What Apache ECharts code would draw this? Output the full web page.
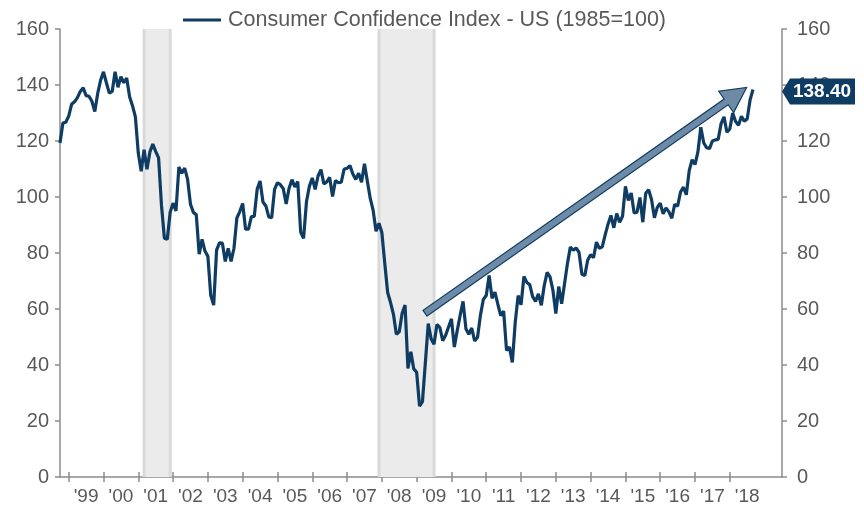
<!DOCTYPE html>
<html>
<head>
<meta charset="utf-8">
<title>Consumer Confidence Index - US</title>
<script src="https://cdn.jsdelivr.net/npm/echarts@6/dist/echarts.min.js"></script>
<style>
  html, body { margin: 0; padding: 0; background: #fff; }
  #main { width: 864px; height: 508px; }
</style>
</head>
<body>
<div id="main"></div>
<script>
// x = months since Jan 1999; first reading is Oct 1998
var firstMonth = -3;
var cci = [
  119.3, 126.4, 126.7,                                                            // 1998 Oct-Dec
  128.9, 133.1, 134.0, 135.5, 137.7, 139.0, 136.2, 136.0, 134.2, 130.5, 137.0, 141.7, // 1999
  144.7, 140.8, 137.1, 137.7, 144.7, 139.2, 143.0, 140.8, 142.5, 135.8, 132.6, 128.6, // 2000
  115.7, 109.2, 116.9, 109.9, 116.1, 118.9, 116.3, 114.0, 97.0, 85.3, 84.9, 94.6,     // 2001
  97.8, 95.0, 110.7, 108.5, 110.3, 106.3, 97.4, 94.5, 93.7, 79.6, 84.9, 80.7,         // 2002
  78.8, 64.8, 61.4, 81.0, 83.6, 83.5, 77.0, 81.7, 77.0, 81.7, 92.5, 94.8,             // 2003
  97.7, 88.5, 88.5, 93.0, 93.1, 102.8, 105.7, 98.2, 96.8, 92.9, 92.6, 102.7,          // 2004
  105.1, 104.4, 103.0, 97.5, 103.1, 106.2, 103.6, 105.5, 87.5, 85.2, 98.3, 103.8,     // 2005
  106.8, 102.7, 107.5, 109.8, 104.7, 105.4, 107.0, 100.2, 105.9, 105.1, 105.3, 110.0, // 2006
  110.2, 111.2, 108.2, 106.3, 108.5, 105.3, 111.9, 105.6, 99.5, 95.2, 87.8, 90.6,     // 2007
  87.3, 76.4, 65.9, 62.3, 58.1, 51.0, 51.9, 58.5, 61.4, 38.8, 44.7, 38.6,             // 2008
  37.4, 25.3, 26.9, 40.8, 54.8, 49.3, 47.4, 54.5, 53.4, 48.7, 50.6, 53.6,             // 2009
  56.5, 46.4, 52.3, 57.7, 62.7, 52.9, 51.0, 53.2, 48.6, 49.9, 57.8, 63.4,             // 2010
  64.8, 72.0, 63.8, 66.0, 61.7, 57.6, 59.2, 45.2, 46.4, 40.9, 55.2, 64.8,             // 2011
  61.5, 71.6, 69.5, 68.7, 64.4, 62.7, 65.4, 61.3, 68.4, 73.1, 71.5, 66.7,             // 2012
  58.4, 68.0, 61.9, 69.0, 76.2, 82.1, 81.0, 81.8, 80.2, 72.4, 72.0, 77.5,             // 2013
  79.4, 78.3, 83.9, 81.7, 82.2, 86.4, 90.3, 93.4, 89.0, 94.1, 91.0, 93.1,             // 2014
  103.8, 98.8, 101.4, 94.3, 94.6, 99.8, 91.0, 101.3, 102.6, 99.1, 92.6, 96.3,         // 2015
  97.8, 94.0, 96.1, 94.7, 92.4, 97.4, 96.7, 101.8, 103.5, 100.8, 109.4, 113.3,        // 2016
  111.6, 116.1, 124.9, 119.4, 117.6, 117.3, 120.0, 120.4, 120.6, 126.2, 128.6, 123.1, // 2017
  124.3, 130.0, 127.0, 125.6, 128.8, 127.1, 127.9, 134.7, 138.4                       // 2018 Jan-Sep
];
var lastValue = 138.40;

// shaded recessions (month ranges)
var recessions = [[26, 35], [107, 126]];

// trend arrow, tail -> tip, in data units
var arrowTail = [122.9, 58.5];
var arrowTip = [233.8, 139.1];

var yearTicks = [0, 12, 24, 36, 48, 60, 72, 84, 96, 108, 120, 132, 144, 156, 168, 180, 192, 204, 216, 228];
var yearLabelPos = [6, 18, 30, 42, 54, 66, 78, 90, 102, 114, 126, 138, 150, 162, 174, 186, 198, 210, 222, 234];
var yearLabels = ["'99", "'00", "'01", "'02", "'03", "'04", "'05", "'06", "'07", "'08",
                  "'09", "'10", "'11", "'12", "'13", "'14", "'15", "'16", "'17", "'18"];

var xMin = -3, xMax = 246;
var yMin = 0, yMax = 160;
var navy = '#0f3c62';
var axisGray = '#8c8c8c';
var labelGray = '#595959';
var font = 'Liberation Sans, Arial, sans-serif';

var lineData = cci.map(function (v, i) { return [firstMonth + i, v]; });

var chart = echarts.init(document.getElementById('main'));

var yAxisBase = {
    type: 'value',
    min: yMin,
    max: yMax,
    interval: 20,
    splitLine: { show: false },
    axisLine: { show: true, onZero: false, lineStyle: { color: axisGray, width: 1.5 } },
    axisTick: { show: true, length: 5, lineStyle: { color: axisGray, width: 1.5 } },
    axisLabel: { color: labelGray, fontSize: 20, fontFamily: font }
};

var option = {
    animation: false,
    backgroundColor: '#fff',
    grid: { left: 60, right: 82, top: 29, bottom: 31 },
    legend: {
        data: ['Consumer Confidence Index - US (1985=100)'],
        top: 3,
        left: 178,
        icon: 'rect',
        itemWidth: 38,
        itemHeight: 3,
        textStyle: { fontSize: 21.5, color: labelGray, fontFamily: font, lineHeight: 24, padding: [0, 0, 0, 2] }
    },
    xAxis: [{
        type: 'value',
        min: xMin,
        max: xMax,
        position: 'bottom',
        splitLine: { show: false },
        axisLine: { show: true, onZero: false, lineStyle: { color: axisGray, width: 1.5 } },
        axisTick: { show: true, length: 5, customValues: yearTicks, lineStyle: { color: axisGray, width: 1.5 } },
        axisLabel: {
            customValues: yearLabelPos,
            color: labelGray,
            fontSize: 19,
            fontFamily: font,
            margin: 10,
            formatter: function (v) { return yearLabels[Math.round((v - 6) / 12)]; }
        }
    }, {
        type: 'value',
        min: xMin,
        max: xMax,
        position: 'bottom',
        splitLine: { show: false },
        axisLine: { show: false, onZero: false },
        axisTick: { show: true, inside: true, length: 5, customValues: yearTicks, lineStyle: { color: axisGray, width: 1.5 } },
        axisLabel: { show: false }
    }],
    yAxis: [
        echarts.util.merge({ position: 'left', axisLabel: { margin: 11 } }, yAxisBase, false),
        echarts.util.merge({ position: 'right', axisLabel: { margin: 15 } }, yAxisBase, false)
    ],
    series: [{
        // recession bands: light fill with darker side edges
        type: 'custom',
        silent: true,
        z: 1,
        data: recessions,
        encode: { x: [0, 1] },
        renderItem: function (params, api) {
            var a = api.coord([api.value(0), yMax]);
            var b = api.coord([api.value(1), yMin]);
            return {
                type: 'group',
                children: [{
                    type: 'rect',
                    shape: { x: a[0], y: a[1], width: b[0] - a[0], height: b[1] - a[1] },
                    style: { fill: '#ebebeb' }
                }, {
                    type: 'line',
                    shape: { x1: a[0], y1: a[1], x2: a[0], y2: b[1] },
                    style: { stroke: '#d9d9d9', lineWidth: 3 }
                }, {
                    type: 'line',
                    shape: { x1: b[0], y1: a[1], x2: b[0], y2: b[1] },
                    style: { stroke: '#d9d9d9', lineWidth: 3 }
                }]
            };
        }
    }, {
        name: 'Consumer Confidence Index - US (1985=100)',
        type: 'line',
        data: lineData,
        symbol: 'none',
        lineStyle: { color: navy, width: 3.2 },
        itemStyle: { color: navy },
        z: 3
    }, {
        type: 'custom',
        silent: true,
        z: 4,
        data: [[arrowTail[0], arrowTail[1], arrowTip[0], arrowTip[1]]],
        encode: { x: [0, 2], y: [1, 3] },
        renderItem: function (params, api) {
            var a = api.coord([api.value(0), api.value(1)]);
            var b = api.coord([api.value(2), api.value(3)]);
            var dx = b[0] - a[0], dy = b[1] - a[1];
            var len = Math.sqrt(dx * dx + dy * dy);
            var ux = dx / len, uy = dy / len;
            var nx = -uy, ny = ux;
            var w = 3.5, hw = 13, hl = 25;
            var base = [b[0] - ux * hl, b[1] - uy * hl];
            var pts = [
                [a[0] + nx * w, a[1] + ny * w],
                [base[0] + nx * w, base[1] + ny * w],
                [base[0] + nx * hw, base[1] + ny * hw],
                b,
                [base[0] - nx * hw, base[1] - ny * hw],
                [base[0] - nx * w, base[1] - ny * w],
                [a[0] - nx * w, a[1] - ny * w]
            ];
            return {
                type: 'polygon',
                shape: { points: pts },
                style: { fill: '#6d8ba7', stroke: navy, lineWidth: 1.2 }
            };
        }
    }, {
        type: 'custom',
        silent: true,
        clip: false,
        z: 10,
        data: [[xMax, lastValue]],
        renderItem: function (params, api) {
            var p = api.coord([api.value(0), api.value(1)]);
            var x = p[0], y = p[1] + 2;
            var h = 13;
            return {
                type: 'group',
                children: [{
                    type: 'polygon',
                    shape: { points: [[x, y], [x + 8, y - h], [x + 73, y - h], [x + 73, y + h], [x + 8, y + h]] },
                    style: { fill: navy }
                }, {
                    type: 'text',
                    style: {
                        text: lastValue.toFixed(2),
                        x: x + 40,
                        y: y,
                        align: 'center',
                        verticalAlign: 'middle',
                        fill: '#fff',
                        font: 'bold 19px ' + font
                    }
                }]
            };
        }
    }]
};

chart.setOption(option);
</script>
</body>
</html>
